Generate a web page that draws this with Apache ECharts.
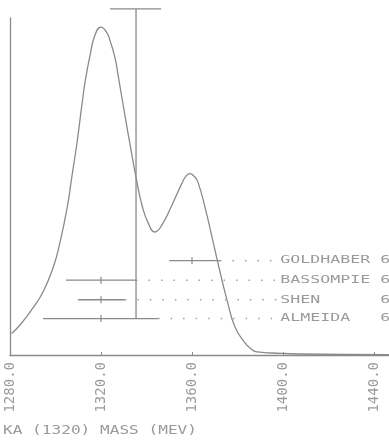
<!DOCTYPE html>
<html>
<head>
<meta charset="utf-8">
<script src="https://cdn.jsdelivr.net/npm/echarts@6/dist/echarts.min.js"></script>
<style>html,body{margin:0;padding:0;background:#fff}#c{width:389px;height:445px}</style>
</head>
<body>
<div id="c"></div>
<script>
// ---- data ----
const xTicks = [1280, 1320, 1360, 1400, 1440];
const curveMass = [1280.7, 1284.4, 1290.1, 1294.5, 1298.9, 1302.0, 1305.1, 1307.3, 1309.5, 1311.6, 1313.0, 1315.2, 1317.4, 1320.0, 1322.6, 1324.0, 1326.2, 1327.5, 1330.5, 1333.6, 1335.8, 1338.0, 1340.7, 1343.7, 1346.8, 1351.2, 1355.6, 1357.3, 1359.1, 1361.0, 1362.6, 1365.7, 1368.8, 1371.4, 1375.4, 1378.9, 1383.3, 1386.0, 1388.6, 1395.6, 1407.5, 1446.6];
const curveVal  = [6.4, 8.9, 14.0, 18.7, 25.8, 33.5, 43.6, 53.4, 63.2, 74.2, 81.0, 89.0, 95.0, 97.3, 95.6, 93.2, 88.1, 83.1, 71.2, 59.3, 51.3, 44.5, 39.2, 36.5, 38.6, 44.5, 51.0, 53.0, 53.8, 53.0, 51.3, 43.9, 35.0, 27.3, 16.3, 8.3, 3.6, 1.8, 0.9, 0.6, 0.3, 0.1];
const expNames  = ['GOLDHABER 6', 'BASSOMPIE 6', 'SHEN      6', 'ALMEIDA   6'];
const expCenter = [1360.0, 1320.0, 1320.0, 1320.0];
const expLow    = [1350.0, 1304.6, 1309.9, 1294.5];
const expHigh   = [1372.3, 1335.4, 1330.5, 1345.1];
const expRow    = [28.0, 22.2, 16.4, 10.8];
const labelMass = 1397.5;
const barMass = 1335.4, barBottom = 10.8, barTop = 102.7;
const capLow = 1324.0, capHigh = 1346.4;
const xTitle = 'KA (1320) MASS (MEV)';

const GRAY = '#8a8a8a', TXT = '#9a9a9a';
const FONT = 'DejaVu Sans Mono';

const chart = echarts.init(document.getElementById('c'), null, {renderer: 'canvas'});
const series = [];
series.push({
  type: 'line', smooth: 0.5, showSymbol: false, silent: true,
  data: curveMass.map((m, i) => [m, curveVal[i]]),
  lineStyle: {color: GRAY, width: 1.3}
});
series.push({
  type: 'line', showSymbol: false, clip: false, silent: true,
  data: [[barMass, barBottom], [barMass, barTop]],
  lineStyle: {color: GRAY, width: 1.3}
});
series.push({
  type: 'line', showSymbol: false, clip: false, silent: true,
  data: [[capLow, barTop], [capHigh, barTop]],
  lineStyle: {color: GRAY, width: 1.3}
});
expNames.forEach((n, i) => {
  series.push({
    type: 'line', showSymbol: false, silent: true,
    data: [[expLow[i], expRow[i]], [expHigh[i], expRow[i]]],
    lineStyle: {color: GRAY, width: 1.3}
  });
  series.push({
    type: 'line', showSymbol: false, silent: true,
    data: [[expHigh[i], expRow[i]], [labelMass, expRow[i]]],
    lineStyle: {color: '#a0a0a0', width: 1.5, type: [1.5, 11]}
  });
});
series.push({
  type: 'scatter', silent: true, symbol: 'rect', symbolSize: [1.5, 7],
  data: expCenter.map((m, i) => [m, expRow[i]]),
  itemStyle: {color: GRAY}
});

chart.setOption({
  animation: false,
  backgroundColor: '#fff',
  grid: {left: 10, right: 0, top: 18, bottom: 90, containLabel: false},
  xAxis: {
    type: 'value', min: 1280, max: 1446.6, interval: 40,
    axisLine: {show: true, lineStyle: {color: GRAY, width: 1.3}},
    axisTick: {show: true, inside: true, length: 3, lineStyle: {color: GRAY}},
    splitLine: {show: false},
    axisLabel: {
      rotate: 90, margin: 7, showMaxLabel: false,
      color: TXT, fontFamily: FONT, fontSize: 14,
      formatter: v => v.toFixed(1)
    }
  },
  yAxis: {
    type: 'value', min: 0, max: 100,
    axisLine: {show: true, lineStyle: {color: GRAY, width: 1.3}},
    axisTick: {show: false}, axisLabel: {show: false}, splitLine: {show: false}
  },
  series: series
});

// Text labels placed through the chart's own scales
const fsR = 11, pitchR = 10;
const graphics = expNames.map((n, i) => {
  const p = chart.convertToPixel({gridIndex: 0}, [labelMass, expRow[i]]);
  return {
    type: 'text', x: p[0] + 3, y: p[1], scaleX: pitchR / (0.602 * fsR), scaleY: 1,
    style: {text: n, fill: TXT, font: fsR + 'px "' + FONT + '"', verticalAlign: 'middle'}
  };
});
const fsT = 12.5;
graphics.push({
  type: 'text', x: 3, y: 431, scaleX: 9.7 / (0.602 * fsT),
  style: {text: xTitle, fill: TXT, font: fsT + 'px "' + FONT + '"', verticalAlign: 'middle'}
});
chart.setOption({graphic: graphics});
</script>
</body>
</html>
